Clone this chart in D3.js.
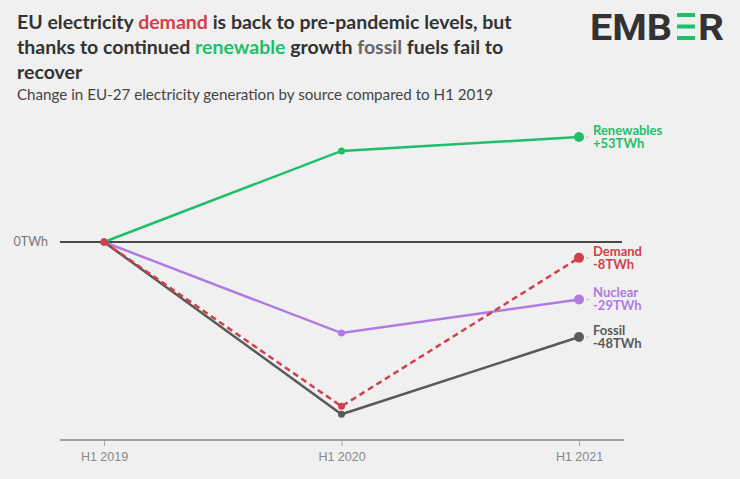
<!DOCTYPE html>
<html>
<head>
<meta charset="utf-8">
<script src="https://cdn.jsdelivr.net/npm/d3@7"></script>
<style>
  body { margin: 0; background: #f0f0f0; }
  svg { display: block; font-family: "Source Sans Pro", Lato, "Open Sans", sans-serif; }
</style>
</head>
<body>
<svg id="chart"></svg>
<script>
const periods = ["H1 2019", "H1 2020", "H1 2021"];
const renewables = [0, 46, 53];
const nuclear = [0, -46, -29];
const fossil = [0, -87, -48];
const demand = [0, -83, -8];
const seriesNames = ["Renewables", "Nuclear", "Fossil", "Demand"];
const seriesLabels = ["+53TWh", "-29TWh", "-48TWh", "-8TWh"];
const seriesColors = ["#1fbf6a", "#b07be0", "#5a5a5a", "#d23f48"];
const zeroLabel = "0TWh";

const width = 740, height = 479;
const svg = d3.select('#chart')
    .attr('width', width)
    .attr('height', height)
    .style('background-color', '#f0f0f0');

// title
const title = svg.append('text')
    .attr('x', 17)
    .attr('y', 29)
    .style('font-size', '19.5px')
    .style('font-weight', 'bold')
    .style('fill', '#333');
title.append('tspan').text('EU electricity ');
title.append('tspan').style('fill', '#d23f48').text('demand');
title.append('tspan').text(' is back to pre-pandemic levels, but');

const title2 = svg.append('text')
    .attr('x', 17)
    .attr('y', 54)
    .style('font-size', '19.5px')
    .style('font-weight', 'bold')
    .style('fill', '#333');
title2.append('tspan').text('thanks to continued ');
title2.append('tspan').style('fill', '#1fbf6a').text('renewable');
title2.append('tspan').text(' growth ');
title2.append('tspan').style('fill', '#666').text('fossil');
title2.append('tspan').text(' fuels fail to');

svg.append('text')
    .attr('x', 17)
    .attr('y', 79)
    .style('font-size', '19.5px')
    .style('font-weight', 'bold')
    .style('fill', '#333')
    .text('recover');

svg.append('text')
    .attr('x', 17)
    .attr('y', 100)
    .attr('textLength', 476)
    .attr('lengthAdjust', 'spacingAndGlyphs')
    .style('font-size', '15px')
    .style('fill', '#444')
    .text('Change in EU-27 electricity generation by source compared to H1 2019');

// logo
const logo = svg.append('g')
    .style('font-size', '37px')
    .style('font-weight', 'bold')
    .style('font-family', 'Roboto, "DejaVu Sans", sans-serif')
    .style('fill', '#333');
logo.append('text')
    .attr('x', 590)
    .attr('y', 40)
    .attr('textLength', 82)
    .attr('lengthAdjust', 'spacingAndGlyphs')
    .text('EMB');
[13, 24.5, 36].forEach(function (yy) {
    logo.append('rect')
        .attr('x', 677).attr('y', yy)
        .attr('width', 18).attr('height', 4)
        .attr('fill', '#1fbf6a');
});
logo.append('text')
    .attr('x', 698)
    .attr('y', 40)
    .attr('textLength', 26)
    .attr('lengthAdjust', 'spacingAndGlyphs')
    .text('R');

// scales
let x = d3.scalePoint()
    .domain(periods)
    .range([104, 579]);

let y = d3.scaleLinear()
    .domain([-100, 0])
    .range([440, 242]);

// x axis
const xAxis = svg.append('g')
    .attr('transform', `translate(0, ${y(-100)})`)
    .call(d3.axisBottom(x).tickSize(6).tickPadding(6));
xAxis.select('.domain').remove();
xAxis.append('line')
    .attr('x1', 60).attr('x2', 624)
    .attr('y1', 0).attr('y2', 0)
    .attr('stroke', '#888').attr('stroke-width', 1.5);
xAxis.selectAll('.tick line').attr('stroke', '#aaa');
xAxis.selectAll('.tick text')
    .style('font-size', '12.5px')
    .style('font-family', 'inherit')
    .style('fill', '#888');

// zero line
svg.append('line')
    .attr('x1', 60).attr('x2', 622)
    .attr('y1', y(0)).attr('y2', y(0))
    .attr('stroke', '#111').attr('stroke-width', 1.3);
svg.append('text')
    .attr('x', 48)
    .attr('y', y(0))
    .attr('dy', '0.35em')
    .attr('text-anchor', 'end')
    .style('font-size', '12.5px')
    .style('fill', '#777')
    .text(zeroLabel);

// lines
const allSeries = [renewables, nuclear, fossil, demand];
const line = d3.line()
    .x(function (d, i) { return x(periods[i]); })
    .y(function (d) { return y(d); });

allSeries.forEach(function (values, s) {
    const color = seriesColors[s];
    svg.append('path')
        .datum(values)
        .attr('d', line)
        .attr('fill', 'none')
        .attr('stroke', color)
        .attr('stroke-width', 2.5)
        .attr('stroke-dasharray', seriesNames[s] === 'Demand' ? '6,4' : null);

    svg.selectAll(null)
        .data(values)
        .enter().append('circle')
        .attr('cx', function (d, i) { return x(periods[i]); })
        .attr('cy', function (d) { return y(d); })
        .attr('r', function (d, i) { return i === values.length - 1 ? 5 : 3.5; })
        .attr('fill', color);

    const last = values[values.length - 1];
    const lx = x(periods[periods.length - 1]);
    svg.append('line')
        .attr('x1', lx + 7).attr('x2', lx + 10)
        .attr('y1', y(last)).attr('y2', y(last))
        .attr('stroke', '#bbb').attr('stroke-width', 1);

    const lab = svg.append('text')
        .attr('x', lx + 14)
        .attr('y', y(last) - 2)
        .style('font-size', '13px')
        .style('font-weight', 'bold')
        .style('fill', color);
    lab.append('tspan').text(seriesNames[s]);
    lab.append('tspan')
        .attr('x', lx + 14)
        .attr('dy', 13)
        .text(seriesLabels[s]);
});
</script>
</body>
</html>
